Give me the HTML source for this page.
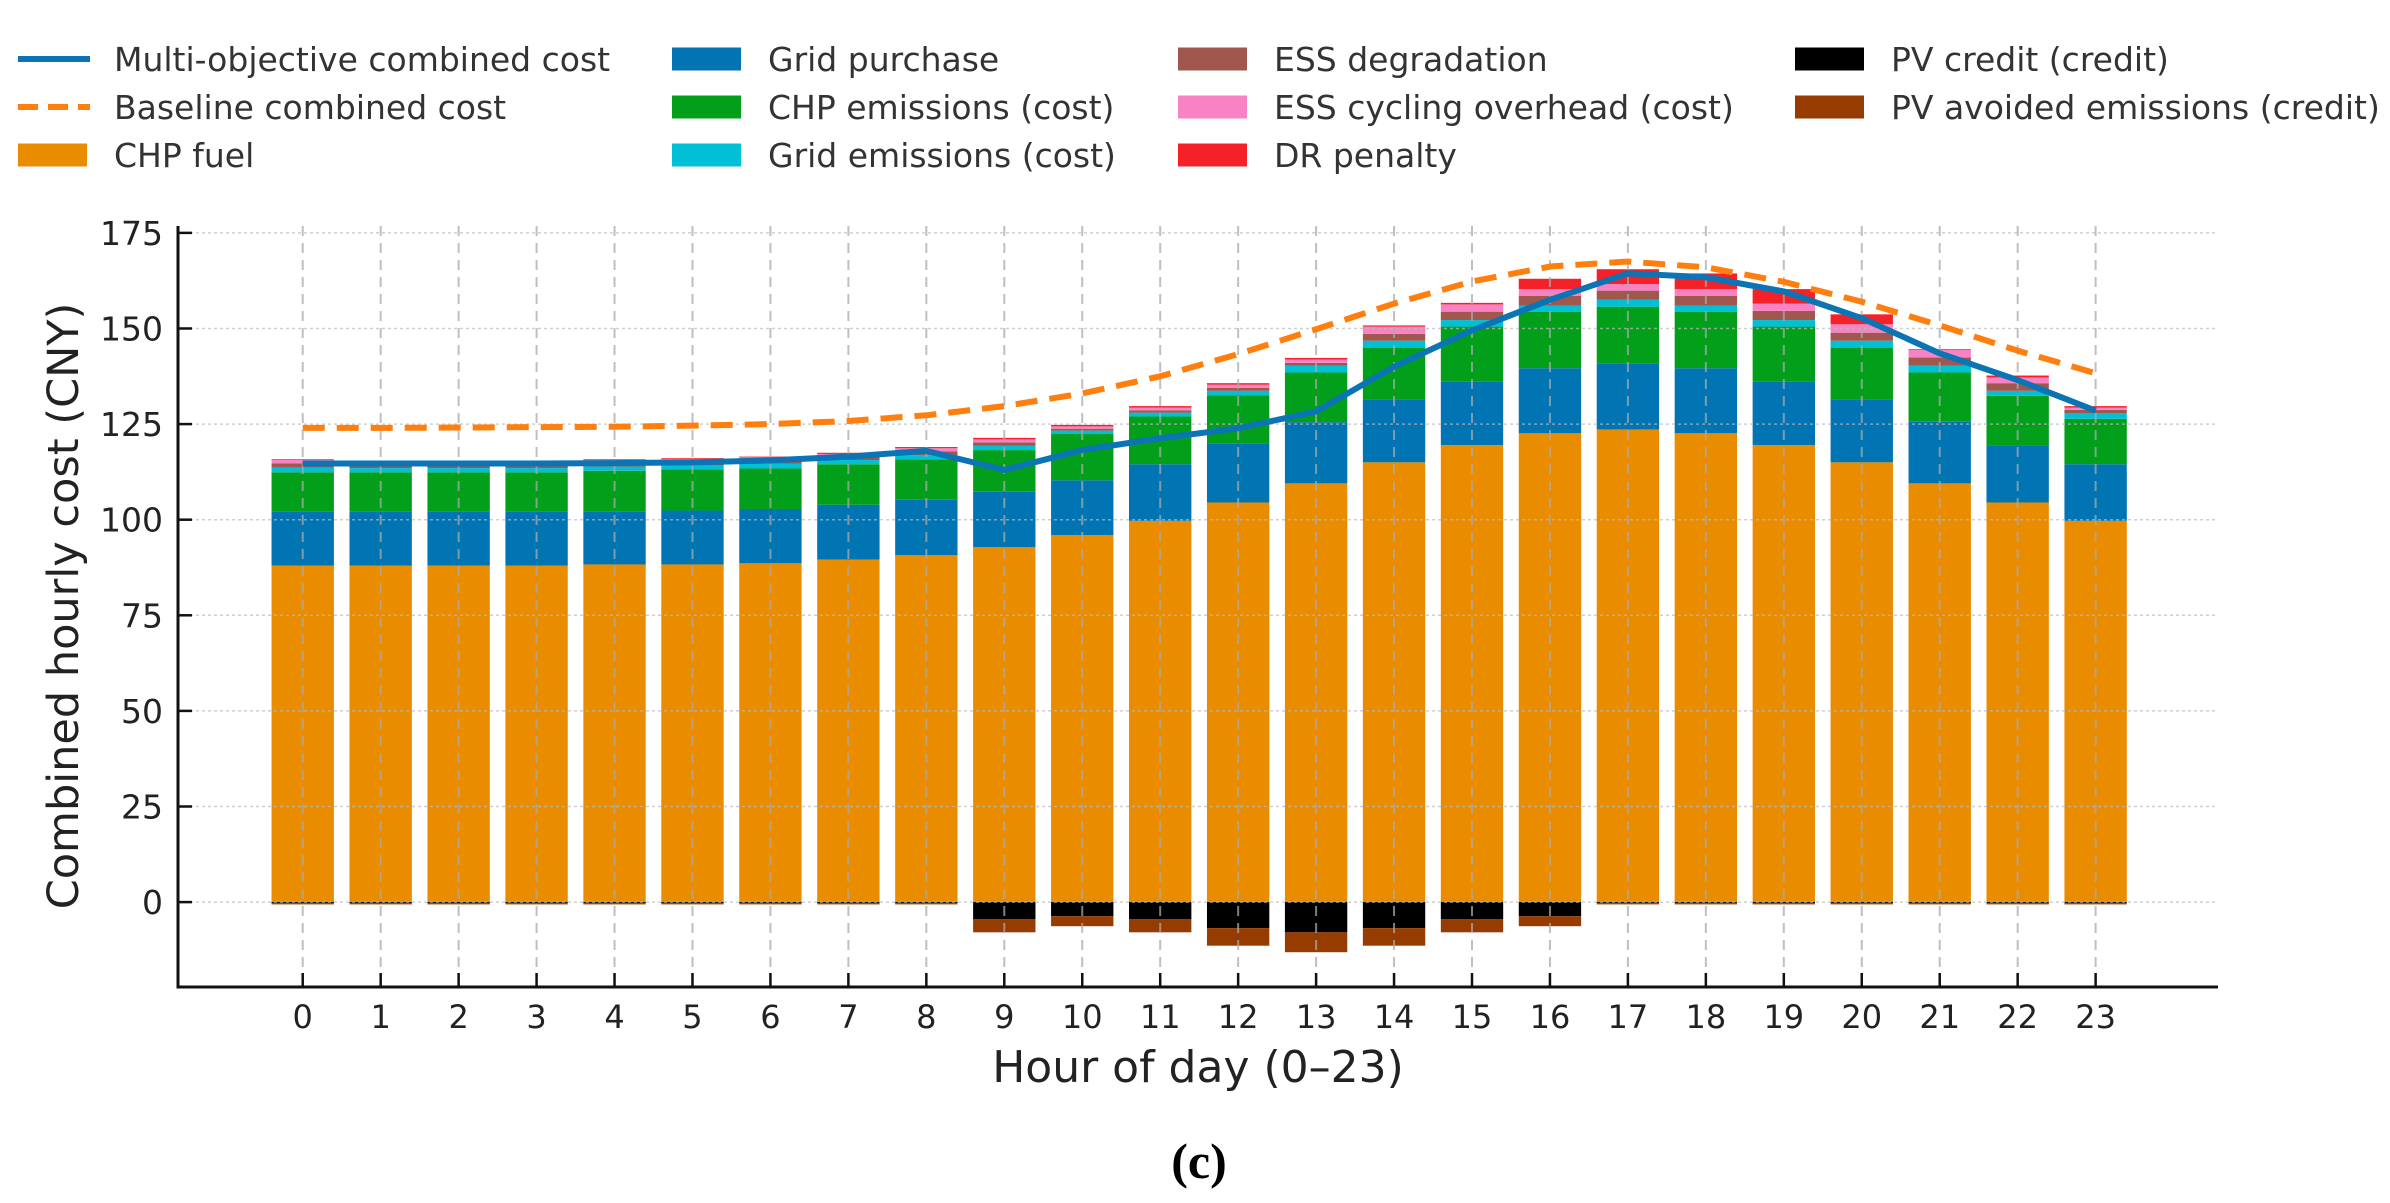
<!DOCTYPE html>
<html><head><meta charset="utf-8"><style>
html,body{margin:0;padding:0;background:#fff;}
svg{display:block;font-family:"DejaVu Sans","Liberation Sans",sans-serif;}
</style></head><body>
<svg id="chart" width="2390" height="1203" viewBox="0 0 2390 1203" xmlns="http://www.w3.org/2000/svg">
<g id="legend"></g>
<g id="bars"></g>
<g id="grid"></g>
<g id="lines"></g>
<g id="axes"></g>
<text x="1198" y="1082" font-size="44" text-anchor="middle" fill="#222">Hour of day (0–23)</text>
<text transform="translate(78,606) rotate(-90)" font-size="43" text-anchor="middle" fill="#222">Combined hourly cost (CNY)</text>
<text x="1199" y="1178" font-size="50" font-weight="bold" text-anchor="middle" fill="#000" font-family="Liberation Serif, serif">(c)</text>
</svg>
<script>
const hours = [0,1,2,3,4,5,6,7,8,9,10,11,12,13,14,15,16,17,18,19,20,21,22,23];
const chpFuel      = [88.0,88.0,88.0,88.0,88.3,88.3,88.6,89.6,90.7,92.8,96.0,99.7,104.5,109.5,115.0,119.5,122.6,123.6,122.6,119.5,115.0,109.5,104.5,99.7];
const gridPurchase = [14.1,14.1,14.1,14.1,13.8,14.1,14.2,14.3,14.5,14.5,14.3,14.8,15.5,16.0,16.4,16.6,17.0,17.3,17.0,16.6,16.4,16.1,15.0,14.8];
const chpEmissions = [10.3,10.3,10.3,10.3,10.7,10.8,10.6,10.6,10.6,10.9,12.1,12.5,12.5,13.0,13.6,14.4,14.8,14.8,14.8,14.4,13.6,12.9,12.9,11.9];
const gridEmissions= [1.2,1.1,1.1,1.1,1.1,1.0,1.2,1.1,1.1,1.1,0.9,1.0,1.2,1.8,1.8,1.7,1.6,1.8,1.6,1.7,1.8,1.8,1.3,1.4];
const essDegradation=[1.1,0.8,0.8,0.8,0.9,0.9,0.9,0.9,1.0,0.9,0.5,0.6,0.8,0.7,1.8,2.2,2.5,2.4,2.5,2.4,2.1,2.1,2.0,0.9];
const essCycling   = [0.9,0.7,0.7,0.7,0.8,0.8,0.8,0.7,0.8,0.8,0.6,0.7,0.8,0.9,1.9,1.9,1.8,1.7,1.8,1.9,2.2,2.0,1.5,0.6];
const drPenalty    = [0.2,0.2,0.2,0.2,0.2,0.2,0.2,0.3,0.3,0.4,0.4,0.4,0.4,0.4,0.3,0.4,2.7,3.9,4.1,3.8,2.6,0.2,0.5,0.4];
const pvCredit     = [-0.3,-0.3,-0.3,-0.3,-0.3,-0.3,-0.3,-0.3,-0.3,-4.5,-3.7,-4.5,-6.8,-7.9,-6.8,-4.5,-3.7,-0.3,-0.3,-0.3,-0.3,-0.3,-0.3,-0.3];
const pvAvoided    = [-0.3,-0.3,-0.3,-0.3,-0.3,-0.3,-0.3,-0.3,-0.3,-3.4,-2.6,-3.4,-4.6,-5.2,-4.6,-3.4,-2.6,-0.3,-0.3,-0.3,-0.3,-0.3,-0.3,-0.3];
const multiObjective=[114.7,114.7,114.7,114.7,114.8,115.0,115.5,116.5,118.0,113.0,118.2,121.3,123.9,128.3,140.0,149.5,157.5,164.4,163.4,159.7,152.7,143.5,136.5,128.5];
const baseline     = [124.0,124.0,124.1,124.2,124.3,124.6,125.0,125.8,127.3,129.7,133.0,137.5,143.3,149.8,156.5,162.3,166.2,167.5,166.0,162.2,157.0,150.8,144.2,138.3];
const yTicks = [0,25,50,75,100,125,150,175];

const NS="http://www.w3.org/2000/svg";
const L=178,R=2218,T=226,B=987;
const XMIN=-1.6,XMAX=24.57,YMIN=-22.2,YMAX=176.8;
const xs=v=>L+(v-XMIN)/(XMAX-XMIN)*(R-L);
const ys=v=>B-(v-YMIN)/(YMAX-YMIN)*(B-T);
const bw=0.8*(xs(1)-xs(0));
function mk(tag,attrs,parent){const e=document.createElementNS(NS,tag);for(const k in attrs)e.setAttribute(k,attrs[k]);parent.appendChild(e);return e;}

const stackSeries=[
 {vals:chpFuel,color:"#EA8C00",name:"chp-fuel"},
 {vals:gridPurchase,color:"#0174B4",name:"grid-purchase"},
 {vals:chpEmissions,color:"#02A01A",name:"chp-emissions"},
 {vals:gridEmissions,color:"#00C0D6",name:"grid-emissions"},
 {vals:essDegradation,color:"#A0584E",name:"ess-degradation"},
 {vals:essCycling,color:"#F982C4",name:"ess-cycling"},
 {vals:drPenalty,color:"#F42128",name:"dr-penalty"}];
const negSeries=[
 {vals:pvCredit,color:"#000000",name:"pv-credit"},
 {vals:pvAvoided,color:"#963C00",name:"pv-avoided"}];

const gb=document.getElementById('bars');
hours.forEach((h,i)=>{
  let acc=0;
  stackSeries.forEach(s=>{
    const v=s.vals[i];
    const r=mk('rect',{x:xs(h)-bw/2,y:ys(acc+v),width:bw,height:ys(acc)-ys(acc+v),fill:s.color},gb);
    
    
    acc+=v;
  });
  let nacc=0;
  negSeries.forEach(s=>{
    const v=s.vals[i];
    const r=mk('rect',{x:xs(h)-bw/2,y:ys(nacc),width:bw,height:ys(nacc+v)-ys(nacc),fill:s.color},gb);
    
    
    nacc+=v;
  });
});

const gg=document.getElementById('grid');
yTicks.forEach(t=>{
  const l=mk('line',{x1:L,x2:R,y1:ys(t),y2:ys(t),stroke:"#bbb","stroke-width":1.5,"stroke-dasharray":"3 3","stroke-opacity":0.7},gg);
  
  
});
hours.forEach(h=>{
  const l=mk('line',{x1:xs(h),x2:xs(h),y1:T,y2:B,stroke:"#aaa","stroke-width":2,"stroke-dasharray":"10 7","stroke-opacity":0.75},gg);
  
  
});

const gl=document.getElementById('lines');
const pts=a=>hours.map((h,i)=>xs(h)+","+ys(a[i])).join(" ");
const bl=mk('polyline',{points:pts(baseline),fill:"none",stroke:"#FF7F0E","stroke-width":6,"stroke-dasharray":"22 12"},gl);


const ml=mk('polyline',{points:pts(multiObjective),fill:"none",stroke:"#0A74B4","stroke-width":6,"stroke-linejoin":"round"},gl);



const ga=document.getElementById('axes');
const sp1=mk('line',{x1:L,x2:L,y1:T,y2:B+1.5,stroke:"#111","stroke-width":3},ga);


const sp2=mk('line',{x1:L-1.5,x2:R,y1:B,y2:B,stroke:"#111","stroke-width":3},ga);


yTicks.forEach(t=>{
  const tk=mk('line',{x1:L,x2:L+14,y1:ys(t),y2:ys(t),stroke:"#111","stroke-width":2.5},ga);
  
  
  const tx=mk('text',{x:163,y:ys(t)+12,"font-size":33,"text-anchor":"end",fill:"#222"},ga);
  tx.textContent=t;
  
  
});
hours.forEach(h=>{
  const tk=mk('line',{x1:xs(h),x2:xs(h),y1:B,y2:B-14,stroke:"#111","stroke-width":2.5},ga);
  
  
  const tx=mk('text',{x:xs(h),y:1028,"font-size":32,"text-anchor":"middle",fill:"#222"},ga);
  tx.textContent=h;
  
  
});

const lg=document.getElementById('legend');
const legendItems=[
 {t:"Multi-objective combined cost",k:"line",c:"#0A74B4",col:0,row:0},
 {t:"Baseline combined cost",k:"dash",c:"#FF7F0E",col:0,row:1},
 {t:"CHP fuel",k:"box",c:"#EA8C00",col:0,row:2},
 {t:"Grid purchase",k:"box",c:"#0174B4",col:1,row:0},
 {t:"CHP emissions (cost)",k:"box",c:"#02A01A",col:1,row:1},
 {t:"Grid emissions (cost)",k:"box",c:"#00C0D6",col:1,row:2},
 {t:"ESS degradation",k:"box",c:"#A0584E",col:2,row:0},
 {t:"ESS cycling overhead (cost)",k:"box",c:"#F982C4",col:2,row:1},
 {t:"DR penalty",k:"box",c:"#F42128",col:2,row:2},
 {t:"PV credit (credit)",k:"box",c:"#000000",col:3,row:0},
 {t:"PV avoided emissions (credit)",k:"box",c:"#963C00",col:3,row:1}];
const colX=[18,672,1178,1795];
const rowY=[59,107,155];
legendItems.forEach(it=>{
  const x=colX[it.col],y=rowY[it.row];
  const g=mk('g',{},lg);
  
  
  if(it.k==="box") mk('rect',{x:x,y:y-11.5,width:69,height:23,fill:it.c},g);
  else if(it.k==="line") mk('line',{x1:x,x2:x+72,y1:y,y2:y,stroke:it.c,"stroke-width":6},g);
  else mk('line',{x1:x,x2:x+72,y1:y,y2:y,stroke:it.c,"stroke-width":6,"stroke-dasharray":"20 10"},g);
  const tx=mk('text',{x:x+96,y:y+12,"font-size":33,fill:"#333"},g);
  tx.textContent=it.t;
});
</script>
</body></html>
